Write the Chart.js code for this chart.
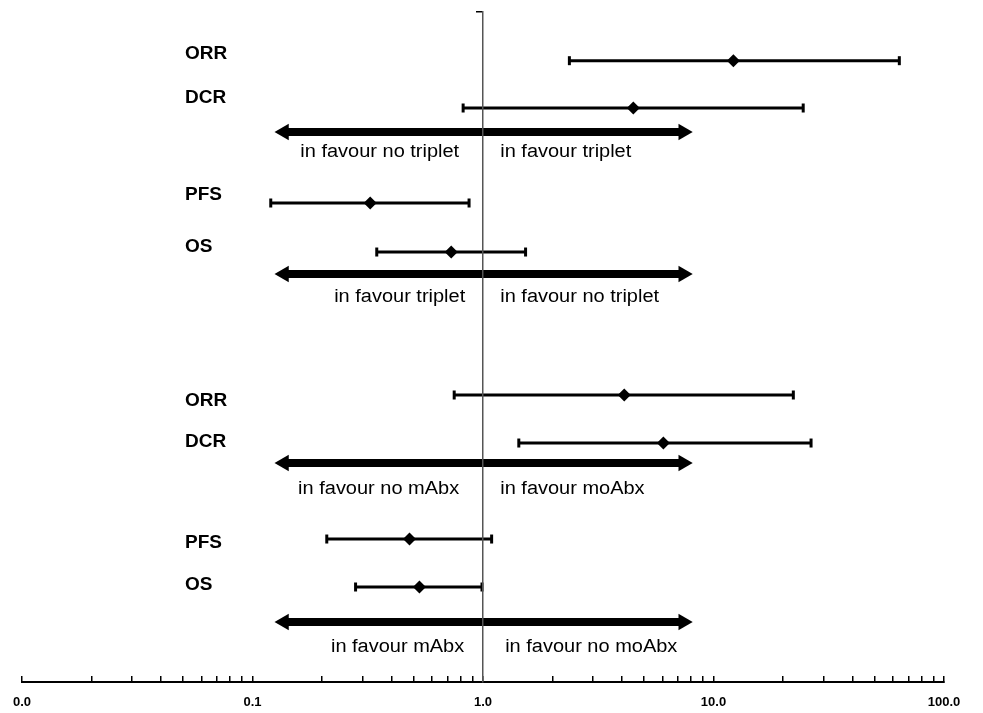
<!DOCTYPE html>
<html><head><meta charset="utf-8">
<script src="https://cdn.jsdelivr.net/npm/chart.js@4.4.1/dist/chart.umd.min.js"></script>
<style>html,body{margin:0;padding:0;background:#fff}#wrap{width:983px;height:713px;position:relative}</style>
</head><body><div id="wrap"><canvas id="c" width="983" height="713"></canvas></div>
<script>
// ---- data ----
const outcomes = ['ORR','DCR','PFS','OS','ORR','DCR','PFS','OS'];
const estimates = [12.2, 4.49, 0.324, 0.728, 4.1, 6.06, 0.48, 0.53];
const lowerCI   = [2.37, 0.82, 0.12, 0.346, 0.75, 1.43, 0.21, 0.28];
const upperCI   = [64, 24.5, 0.87, 1.53, 22.2, 26.5, 1.09, 0.99];
const rowPos    = [1.025, 2.021, 4.021, 5.053, 8.063, 9.074, 11.095, 12.105];
const labelPos  = [0.884, 1.811, 3.853, 4.947, 8.183, 9.046, 11.179, 12.063];
const labelX    = 0.051;
const arrowPos  = [2.526, 5.516, 9.495, 12.842];
const arrowRange = [0.137, 7.39];
const favourLeft  = ['in favour no triplet','in favour triplet','in favour no mAbx','in favour mAbx'];
const favourRight = ['in favour triplet','in favour no triplet','in favour moAbx','in favour no moAbx'];
const favourPos   = [2.947, 6.0, 10.042, 13.368];
const favourLeftEnd    = [0.788, 0.837, 0.788, 0.829];
const favourRightStart = [1.188, 1.188, 1.188, 1.248];
const majorTicks  = [0.01, 0.1, 1, 10, 100];
const majorLabels = ['0.0', '0.1', '1.0', '10.0', '100.0'];
const minorTicks  = [0.02,0.03,0.04,0.05,0.06,0.07,0.08,0.09,
                     0.2,0.3,0.4,0.5,0.6,0.7,0.8,0.9,
                     2,3,4,5,6,7,8,9,
                     20,30,40,50,60,70,80,90];
const yMax = 14.105;

const FONT = '"Liberation Sans", Arial, sans-serif';

const datasets = [];
// point estimates (on top)
datasets.push({
  data: estimates.map((v,i)=>({x:v, y:rowPos[i]})),
  pointStyle:'rectRot', pointRadius:6.5, pointBackgroundColor:'#000',
  pointBorderWidth:0, showLine:false, order:0
});
// confidence intervals
outcomes.forEach((o,i)=>{
  datasets.push({
    data:[{x:lowerCI[i], y:rowPos[i]},{x:upperCI[i], y:rowPos[i]}],
    showLine:true, borderColor:'#000', borderWidth:3,
    pointStyle:'line', pointRotation:90, pointRadius:4.5,
    pointBorderWidth:3, pointBorderColor:'#000', order:1
  });
});
// favour arrows
arrowPos.forEach((p)=>{
  datasets.push({
    data:[{x:arrowRange[0], y:p},{x:arrowRange[1], y:p}],
    showLine:true, borderColor:'#000', borderWidth:8, borderCapStyle:'butt',
    pointStyle:'triangle', pointRotation:[-90,90], pointRadius:9.5,
    pointBackgroundColor:'#000', pointBorderWidth:0, order:2
  });
});

function stretchedText(ctx, t, px, py, align, sx){
  ctx.save();
  ctx.translate(px, py);
  ctx.scale(sx, 1);
  ctx.textAlign = align;
  ctx.fillText(t, 0, 0);
  ctx.restore();
}

const textPlugin = {
  id:'texts',
  afterDatasetsDraw(chart){
    const {ctx} = chart; const x = chart.scales.x, y = chart.scales.y;
    ctx.save();
    ctx.fillStyle = '#000';
    ctx.textBaseline = 'middle';
    ctx.font = 'bold 19px ' + FONT;
    ctx.textAlign = 'left';
    outcomes.forEach((t,i)=> ctx.fillText(t, x.getPixelForValue(labelX), y.getPixelForValue(labelPos[i])));
    ctx.font = '18px ' + FONT;
    favourLeft.forEach((t,i)=> stretchedText(ctx, t, x.getPixelForValue(favourLeftEnd[i]), y.getPixelForValue(favourPos[i]), 'right', 1.11));
    favourRight.forEach((t,i)=> stretchedText(ctx, t, x.getPixelForValue(favourRightStart[i]), y.getPixelForValue(favourPos[i]), 'left', 1.11));
    ctx.restore();
  }
};

new Chart(document.getElementById('c'), {
  type:'scatter',
  data:{datasets},
  options:{
    responsive:false, animation:false, events:[],
    layout:{padding:{left:22, right:39, top:12, bottom:0}},
    plugins:{legend:{display:false}, tooltip:{enabled:false}},
    scales:{
      x:{
        type:'logarithmic', min:0.01, max:100, position:'bottom',
        afterBuildTicks:(s)=>{ s.ticks = majorTicks.concat(minorTicks).sort((a,b)=>a-b).map(v=>({value:v})); },
        afterFit:(s)=>{ s.height = 31; s.paddingLeft = 0; s.paddingRight = 0; },
        ticks:{autoSkip:false, maxRotation:0, minRotation:0, padding:19, color:'#000',
          font:{family:FONT, size:13, weight:'bold'},
          callback:(v)=>{ const k = majorTicks.indexOf(v); return k>=0 ? majorLabels[k] : ''; }},
        grid:{display:true, drawOnChartArea:false, drawTicks:true, tickLength:-6, color:'#000', lineWidth:1.5},
        border:{display:true, color:'#000', width:2}
      },
      y:{
        type:'linear', min:0, max:yMax, reverse:true, position:{x:1},
        afterBuildTicks:(s)=>{ s.ticks = [{value:0}]; },
        afterFit:(s)=>{ s.width = 0; s.paddingTop = 0; s.paddingBottom = 0; },
        ticks:{display:false},
        grid:{display:true, drawOnChartArea:false, drawTicks:true, tickLength:6, color:'#000', lineWidth:1.5},
        border:{display:true, color:'#555', width:1.5, z:1}
      }
    }
  },
  plugins:[textPlugin]
});
</script>
</body></html>
